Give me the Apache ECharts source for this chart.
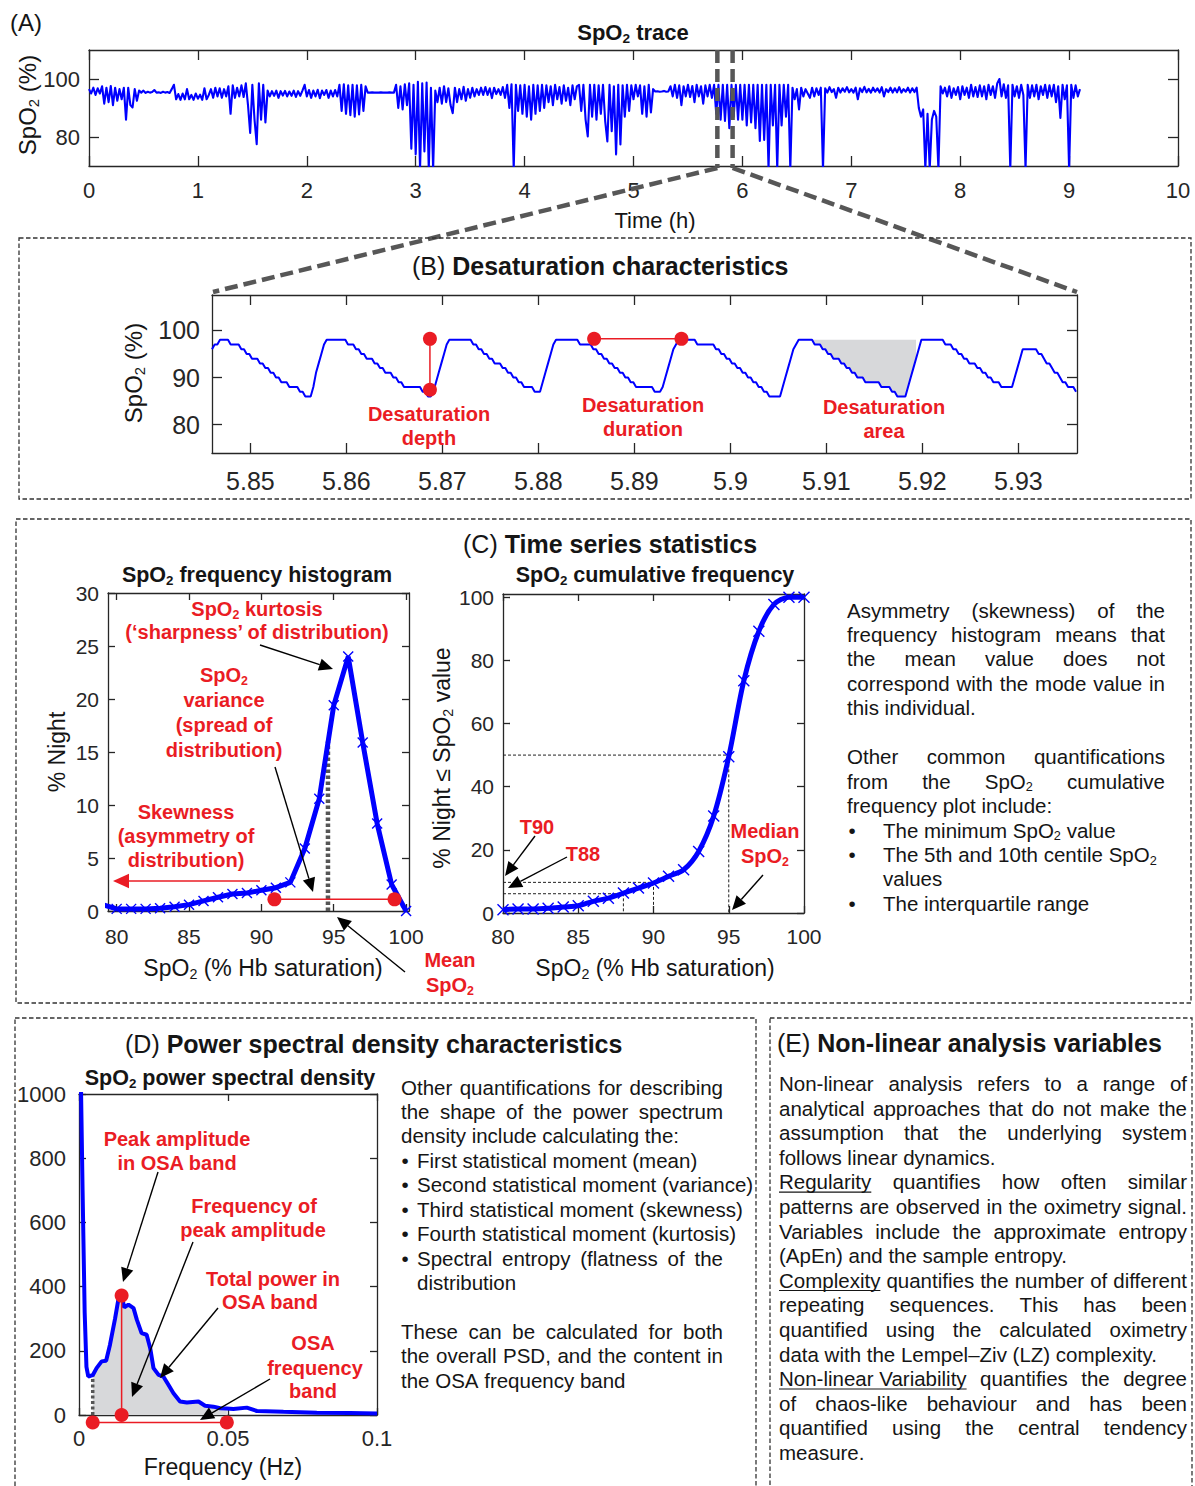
<!DOCTYPE html>
<html>
<head>
<meta charset="utf-8">
<title>Oximetry features</title>
<script src="https://cdn.jsdelivr.net/npm/echarts@6/dist/echarts.min.js"></script>
<style>
html,body{margin:0;padding:0;background:#fff;}
#main{width:1195px;height:1486px;}
</style>
</head>
<body>
<div id="main"></div>
<script>
// ---------------- data ----------------
// (A) overnight SpO2 (%), one reading every 0.02 h starting at 0 h
const traceStepHours = 0.02;
const traceA = [
  96.5,95,97,94.5,96.8,95,97.5,91.5,97,92,          // 0.00
  97.6,91,97,92.5,96.5,93,97,86,97,91,              // 0.20
  90.2,96.5,92.5,96,95.3,96,95.2,95.6,95.3,95.5,    // 0.40
  96.2,95.3,95.4,95.2,95.6,95.3,95.5,95.2,96.5,98,  // 0.60
  93,94.8,92.8,95,93,96.5,93,94.5,92.8,95,          // 0.80
  93.2,94.6,92.8,96.8,93,94.5,96.5,93.5,97,94,      // 1.00
  96.8,93.5,96.5,94,97.5,88,97.8,93.5,97,94,        // 1.20
  97.8,93.8,98.5,91,81.4,98,86,77.5,98.5,86,        // 1.40
  98,85,96,94,95.8,94.2,96,93.5,95.8,94.3,          // 1.60
  95.9,94,95.7,94.2,96,93.8,95.8,94.2,96,98,        // 1.80
  94,96.2,93.5,96,94,96.3,93.4,96,94.5,96.2,        // 2.00
  93.5,96,94,96.2,94,98,89,98.2,88,97.8,            // 2.20
  87.5,98,87,97.8,87.8,98,89,97.5,95.3,95.3,        // 2.40
  95.4,95.3,95.3,95.3,95.4,95.3,95.3,95.3,95.4,95.3,// 2.60
  95.3,98,90,97.5,89.5,98.2,91,98.5,76,98,          // 2.80
  74,99,69,98.5,75,98.8,69,97,69,96,                // 3.00
  92,97,91.5,97.5,92,96.8,91,88.2,97,92,            // 3.20
  96.5,93,97.3,92.5,96.5,93.5,97,94,96.5,94.5,      // 3.40
  97,94.5,97.2,94.5,96.8,93.4,97,94.8,96.5,94.5,    // 3.60
  97.2,93.5,98,90,98.2,69,98,89,97.8,88,            // 3.80
  98,87,97.5,86,98,88,97.8,89,98,90,                // 4.00
  97.8,92,97.5,91,98,93,97.2,91.5,97.8,92.5,        // 4.20
  97,91,97.8,93,97.5,98,89,98,86,80.2,              // 4.40
  98,87,98,86,97.8,88,98,85.5,78.5,98,              // 4.60
  82,97.5,74,98,77.4,97.8,87,98,89,97.8,            // 4.80
  93,98,94,97.8,88,97.5,87,98,88.5,96.5,            // 5.00
  95.7,95.8,95.6,95.7,95.9,95.6,95.7,97.5,94,98,    // 5.20
  93.5,97.8,91,97.5,94,98,93.8,97.6,92,98,          // 5.40
  94,97.5,91.5,97.8,94,98,93.5,98,88,98,            // 5.60
  86,98,85.5,98,83,98,87,98,86,98,                  // 5.80
  86,98,84,98,85,98,83,98,78.6,98,                  // 6.00
  79,98,69,98,84,98,69,98,84,98,                    // 6.20
  87,98,69,97,93,96.5,89.5,97,94,96.5,              // 6.40
  95,93.5,97,94,96.8,94.5,97,69,96.8,95.3,          // 6.60
  97.2,95.5,96.5,93.5,97,95.3,96.8,95.6,97.2,95.4,  // 6.80
  96.5,95.3,97,93,96.8,95.5,97.3,95.4,96.6,95.3,    // 7.00
  97,95.6,96.8,95.3,97.2,94,96.5,95.5,97,95.3,      // 7.20
  96.8,95.4,97.2,95.3,96.5,95.6,97,95.3,96.8,95.5,  // 7.40
  97,90,87,89.5,69,88,69,86,89,87,                  // 7.60
  69,97.5,95,97,94,97.5,93.5,96.8,94.5,97.2,        // 7.80
  93,97.5,94.5,97,93.5,98,94,97.2,93.8,97.8,        // 8.00
  94,97.5,93,98,94.5,97.5,93.5,98.5,100,94,         // 8.20
  98.2,93.5,97.8,69,98,94,97.5,93.5,98,94.5,        // 8.40
  69,98,93.5,97.8,94,98,93,97.5,94.5,98,            // 8.60
  93.5,97.8,94,98,92,97.5,86.6,98,93,97.8,          // 8.80
  69,98,93.5,97.8,94,96.5                           // 9.00
];
const traceTicksX = [0,1,2,3,4,5,6,7,8,9,10];
const traceTicksY = [80,100];
const traceRangeY = [70,110];
const zoomWindowHours = [5.77,5.91];

// (B) 1 Hz SpO2 readings starting at 5.846 h
const zoomStartHour = 5.846;
const traceB = [
  96,97,97,98,98, 98,98,97,97,97,97,
  96,96,95,95,94,94,94,93,93,92,92,91,91,90,90,89,89,89,
  88,88,88,88, 87,87, 86,86,86,
  88,91,93,95,97,98, 98,98,98,98,98,98,98,
  97,97,97,96,96,95,95,94,94,94,93,93,92,92,91,91,91,90,90,89,89,88,88,88,88,
  88,88,88, 87,87,86,86,
  87,89,91,93,95,97,98,98, 98,98,98,98,98,98,98,
  97,97,96,96,95,95,94,94,93,93,93,92,92,91,91,90,90,89,89,88,
  88,88,88,87, 87,87,
  89,91,93,95,97,98, 98,98,98,98,98,98,98,98,
  97,97,97,97,97,
  96,96,95,95,94,94,93,93,92,92,91,91,90,90,89,89,88,88,
  88,88,88,88,88, 87,87,87,
  88,90,92,94,96,97,98,98, 98,98,98,98,98,
  97,97,97,97,97,97,97,
  96,96,95,95,94,94,93,93,92,92,91,91,90,90,89,89,88,88,87,87,
  86,86,86,86,86,
  88,90,92,94,96,97,98, 98,98,98,98,98,
  97,97,97,96,96,95,95,94,94,94,93,93,92,92,91,91,90,90,90,89,89,89,89,
  89,89,88,88,88,88,87, 87,86,86,86,86,
  88,90,92,94,96,98, 98,98,98,98,98,98,98,98,
  97,97,97,96,96,95,95,94,94,93,93,93,92,92,91,91,90,90,89,89,89,88,88,
  88,88,88, 90,92,94,96, 96,96,96,96,96,
  95,95,94,93,93,92,91,91,90,89,89,88,88,88,87
];
const zoomRangeX = [5.846,5.9361];
const zoomRangeY = [74,107.5];
const zoomTicksX = [5.85,5.86,5.87,5.88,5.89,5.9,5.91,5.92,5.93];
const zoomTicksY = [80,90,100];
const depthMark = [[5.8687,98.2],[5.8687,87.4]];
const durationMark = [[5.8858,98.2],[5.8949,98.2]];
const shadedSpanHours = [5.9085,5.9194];
const shadedTop = 98;

// (C) SpO2 frequency histogram (% of night per 1% bin)
const histBins = [79,80,81,82,83,84,85,86,87,88,89,90,91,92,93,94,95,96,97,98,99,100];
const histPct  = [0.6,0.2,0.2,0.2,0.25,0.4,0.6,0.95,1.3,1.6,1.7,1.95,2.2,2.7,5.9,10.6,19.4,24.0,15.9,8.25,2.5,0];
const histRangeX = [79.4,100.2];
const histTicksX = [80,85,90,95,100];
const histTicksY = [0,5,10,15,20,25,30];
const meanMark = [[94.6,0],[94.6,16]];
const spreadMark = [[90.9,1.1],[99.2,1.1]];

// (C) cumulative frequency (% of night at or below each SpO2)
const cumBins = [80,81,82,83,84,85,86,87,88,89,90,91,92,93,94,95,96,97,98,99,100];
const cumPct  = [1.05,1.3,1.3,1.5,1.9,2.3,3.7,4.7,6.3,7.9,9.5,11.6,13.7,19.5,30.7,49.5,73.5,89.2,97.7,100,100];
const cumTicksX = [80,85,90,95,100];
const cumTicksY = [0,20,40,60,80,100];
const medianGuide = [[80,50],[95,50],[95,0]];
const t90Guide = [[80,9.7],[90,9.7],[90,0]];
const t88Guide = [[80,6.1],[88,6.1],[88,0]];

// (D) SpO2 power spectral density
const psdFreq  = [0.0002,0.0012,0.0019,0.0025,0.0031,0.0046,0.0059,0.0076,0.0091,0.0104,0.0121,0.0133,0.0143,0.0152,0.0166,0.0183,0.0194,0.0210,0.0227,0.0239,0.0250,0.0267,0.0283,0.0300,0.0317,0.0339,0.0362,0.0401,0.0423,0.0451,0.0474,0.0496,0.0518,0.0563,0.0597,0.0686,0.0798,0.0910,0.1000];
const psdPower = [1300,700,320,150,120,124,146,167,169,219,300,365,372,335,344,333,297,255,250,208,146,125,120,94,68,42,39,42,29,26,21,20,19,23,12.5,10,7,6,5];
const psdTicksX = [0,0.05,0.1];
const psdTicksY = [0,200,400,600,800,1000];
const osaBand = [[0.0046,-23],[0.0496,-23]];
const peakMark = [[0.0143,372],[0.0143,0]];
const bandEdgeMark = [[0.0046,0],[0.0046,122]];

// ---------------- styling helpers ----------------
const FONT = '"Liberation Sans", Arial, Helvetica, sans-serif';
const BLUE = '#0000ff', RED = '#ea1c24', AXC = '#262626', INK = '#151515', SHADE = '#d7d8da';
const CROSS = 'path://M0,0L10,10M10,0L0,10';

const mctx = document.createElement('canvas').getContext('2d');
function measure(str, size, weight) {
  weight = weight || 'normal';
  const parts = str.split('_2');
  let w = 0;
  mctx.font = weight + ' ' + size + 'px ' + FONT;
  parts.forEach(p => { w += mctx.measureText(p).width; });
  if (parts.length > 1) {
    mctx.font = weight + ' ' + (size * 0.62) + 'px ' + FONT;
    w += (parts.length - 1) * mctx.measureText('2').width;
  }
  return w;
}

// text element; "_2" renders as a subscript 2, "{n|...}" as normal weight
function T(x, y, str, o) {
  o = o || {};
  const size = o.size || 20.5, weight = o.weight || 'normal', fill = o.fill || INK;
  const align = o.align || 'left';
  const style = {
    text: str, x: 0, y: 0, fontSize: size, fontWeight: weight, fontFamily: FONT, fill: fill,
    align: align, textAlign: align, verticalAlign: 'middle', textVerticalAlign: 'middle'
  };
  if (/_2|\{/.test(str)) {
    style.text = str.replace(/_2/g, '{s|2}');
    style.rich = {
      s: {fontSize: size * 0.62, fontWeight: weight, fontFamily: FONT, fill: fill, padding: [size * 0.55, 0, 0, 0]},
      n: {fontSize: size, fontWeight: 'normal', fontFamily: FONT, fill: fill}
    };
  }
  return {type: 'text', x: x, y: y, rotation: o.rot || 0, style: style, z: 100, silent: true};
}

function arrow(x1, y1, x2, y2, color, head) {
  color = color || '#000';
  head = head || 14;
  const dx = x2 - x1, dy = y2 - y1, L = Math.hypot(dx, dy), ux = dx / L, uy = dy / L;
  const bx = x2 - ux * head, by = y2 - uy * head, hw = head * 0.45;
  return [
    {type: 'line', shape: {x1: x1, y1: y1, x2: bx, y2: by}, style: {stroke: color, lineWidth: 1.4}, z: 90, silent: true},
    {type: 'polygon', shape: {points: [[x2, y2], [bx - uy * hw, by + ux * hw], [bx + uy * hw, by - ux * hw]]}, style: {fill: color}, z: 90, silent: true}
  ];
}

function dashedBox(x, y, w, h) {
  return {type: 'rect', shape: {x: x, y: y, width: w, height: h},
    style: {fill: 'none', stroke: '#333', lineWidth: 1.3, lineDash: [4.5, 2.5]}, z: 80, silent: true};
}

// justified / left-aligned paragraph, one text element per word
function paragraph(lines, left, right, top, step, size, els) {
  const space = measure(' ', size);
  lines.forEach((ln, i) => {
    if (!ln) return;
    const y = top + i * step;
    let x = ln.indent != null ? ln.indent : left;
    if (ln.bullet != null) els.push(T(ln.bullet, y, '\u2022', {size: size, align: 'center'}));
    const words = ln.t.match(/\[[^\]]+\]|\S+/g);
    const info = words.map(w => {
      const u = w[0] === '[';
      const s = u ? w.slice(1, -1) : w;
      return {s: s, u: u, w: measure(s, size)};
    });
    const total = info.reduce((a, b) => a + b.w, 0);
    const gap = (ln.j && info.length > 1) ? (right - x - total) / (info.length - 1) : space;
    info.forEach(wd => {
      els.push(T(x, y, wd.s, {size: size}));
      if (wd.u) {
        els.push({type: 'line', shape: {x1: x, y1: y + size * 0.5, x2: x + wd.w, y2: y + size * 0.5},
          style: {stroke: INK, lineWidth: 1.1}, z: 100, silent: true});
      }
      x += wd.w + gap;
    });
  });
}

// ---------------- axes ----------------
const grids = [
  {left: 89,  top: 50,   width: 1089, height: 116},   // A
  {left: 212, top: 295,  width: 865,  height: 158},   // B
  {left: 108, top: 593,  width: 301,  height: 318},   // C histogram
  {left: 503, top: 594,  width: 301,  height: 319},   // C cumulative
  {left: 79,  top: 1094, width: 298,  height: 321}    // D
].map(g => Object.assign({containLabel: false, outerBoundsMode: 'none', show: false}, g));

const xAxes = [], yAxes = [];
function boxAxes(g, xr, yr, xt, yt, o) {
  const line = {show: true, onZero: false, lineStyle: {color: AXC, width: 1.3}};
  const tick = v => ({show: true, inside: true, length: o.tick, customValues: v, lineStyle: {color: AXC, width: 1.3}});
  const lab = (v, m, show) => ({show: show, customValues: v, margin: m, color: AXC, fontSize: o.fs, fontFamily: FONT,
    formatter: val => String(val)});
  const base = {type: 'value', gridIndex: g, splitLine: {show: false}, axisLine: line, silent: true};
  xAxes.push(Object.assign({}, base, {min: xr[0], max: xr[1], position: 'bottom', axisTick: tick(xt), axisLabel: lab(xt, o.mx, true)}));
  xAxes.push(Object.assign({}, base, {min: xr[0], max: xr[1], position: 'top', axisTick: tick(xt), axisLabel: lab(xt, 0, false)}));
  yAxes.push(Object.assign({}, base, {min: yr[0], max: yr[1], position: 'left', axisTick: tick(yt), axisLabel: lab(yt, o.my, true)}));
  yAxes.push(Object.assign({}, base, {min: yr[0], max: yr[1], position: 'right', axisTick: tick(yt), axisLabel: lab(yt, 0, false)}));
}
boxAxes(0, [0, 10], traceRangeY, traceTicksX, traceTicksY, {tick: 10, fs: 22, mx: 13, my: 9});
boxAxes(1, zoomRangeX, zoomRangeY, zoomTicksX, zoomTicksY, {tick: 10, fs: 25, mx: 15, my: 12});
boxAxes(2, histRangeX, [0, 30], histTicksX, histTicksY, {tick: 7, fs: 21, mx: 15, my: 9});
boxAxes(3, [80, 100], [0, 101], cumTicksX, cumTicksY, {tick: 7, fs: 21, mx: 13, my: 9});
boxAxes(4, [0, 0.1], [0, 1000], psdTicksX, psdTicksY, {tick: 7, fs: 22, mx: 12, my: 13});

// ---------------- series ----------------
const on = g => ({xAxisIndex: 2 * g, yAxisIndex: 2 * g});
const plain = {showSymbol: false, symbol: 'none', silent: true, animation: false};
function markerLine(g, data, color, extra) {
  return Object.assign({type: 'line', data: data, symbol: 'circle', symbolSize: 14, showSymbol: true,
    itemStyle: {color: color}, lineStyle: {color: color, width: 1.5}, silent: true, z: 5}, on(g), extra || {});
}
function polygonSeries(g, pts, fill) {
  return Object.assign({type: 'custom', data: [[pts[0][0], pts[0][1]]], silent: true, z: 1,
    renderItem: (params, api) => ({type: 'polygon', shape: {points: pts.map(p => api.coord(p))}, style: {fill: fill}})}, on(g));
}

const traceBPoints = traceB.map((v, i) => [zoomStartHour + i / 3600, v]);
const shadedPts = traceBPoints.filter(p => p[0] >= shadedSpanHours[0] && p[0] <= shadedSpanHours[1]);
shadedPts.push([shadedPts[shadedPts.length - 1][0], shadedTop]);

const psdPoints = psdFreq.map((f, i) => [f, psdPower[i]]);
const bandPts = psdPoints.filter(p => p[0] >= osaBand[0][0] && p[0] <= osaBand[1][0]);
bandPts.unshift([osaBand[0][0], 0]);
bandPts.push([osaBand[1][0], 0]);

const series = [
  // A
  Object.assign({type: 'line', data: traceA.map((v, i) => [+(i * traceStepHours).toFixed(2), v]),
    lineStyle: {color: BLUE, width: 2.1, join: 'round'}, clip: true, z: 3}, plain, on(0)),
  // B
  polygonSeries(1, shadedPts, SHADE),
  Object.assign({type: 'line', data: traceBPoints, lineStyle: {color: BLUE, width: 2}, clip: true, z: 3}, plain, on(1)),
  markerLine(1, depthMark, RED),
  markerLine(1, durationMark, RED),
  // C histogram
  Object.assign({type: 'line', data: meanMark, lineStyle: {color: '#555', width: 4.5, type: [3.5, 2.5]}, z: 2}, plain, on(2)),
  Object.assign({type: 'line', data: histBins.map((b, i) => [b, histPct[i]]), symbol: CROSS, symbolSize: 10,
    showSymbol: true, showAllSymbol: true, clip: true, silent: true,
    itemStyle: {color: BLUE, borderColor: BLUE, borderWidth: 1.4},
    lineStyle: {color: BLUE, width: 5}, z: 3}, on(2)),
  markerLine(2, spreadMark, RED),
  // C cumulative
  Object.assign({type: 'line', data: medianGuide, lineStyle: {color: '#222', width: 1, type: [3, 2]}, z: 2}, plain, on(3)),
  Object.assign({type: 'line', data: t90Guide, lineStyle: {color: '#222', width: 1, type: [3, 2]}, z: 2}, plain, on(3)),
  Object.assign({type: 'line', data: t88Guide, lineStyle: {color: '#222', width: 1, type: [3, 2]}, z: 2}, plain, on(3)),
  Object.assign({type: 'line', data: cumBins.map((b, i) => [b, cumPct[i]]), smooth: 0.3,
    symbol: CROSS, symbolSize: 11, showSymbol: true, showAllSymbol: true, clip: false, silent: true,
    itemStyle: {color: BLUE, borderColor: BLUE, borderWidth: 1.4},
    lineStyle: {color: BLUE, width: 5}, z: 3}, on(3)),
  // D
  polygonSeries(4, bandPts, SHADE),
  Object.assign({type: 'line', data: bandEdgeMark, lineStyle: {color: '#555', width: 3.5, type: [3, 2.5]}, z: 2}, plain, on(4)),
  Object.assign({type: 'line', data: psdPoints, lineStyle: {color: BLUE, width: 4}, clip: true, z: 3}, plain, on(4)),
  markerLine(4, peakMark, RED),
  markerLine(4, osaBand, RED, {clip: false})
];

const chart = echarts.init(document.getElementById('main'), null, {renderer: 'svg', width: 1195, height: 1486});
chart.setOption({
  animation: false,
  backgroundColor: '#fff',
  grid: grids,
  xAxis: xAxes,
  yAxis: yAxes,
  series: series
});

// ---------------- annotations ----------------
const g = [];

// panel frames
g.push(dashedBox(19, 238, 1172, 261));
g.push(dashedBox(16, 519, 1175, 484));
g.push(dashedBox(15, 1018, 741, 480));
g.push(dashedBox(770, 1018, 422, 480));

// (A)
g.push(T(10, 22, '(A)', {size: 24}));
g.push(T(633, 32, 'SpO_2 trace', {size: 22, weight: 'bold', align: 'center'}));
g.push(T(27, 105, 'SpO_2 (%)', {size: 24, align: 'center', rot: Math.PI / 2}));
g.push(T(655, 220, 'Time (h)', {size: 22, align: 'center'}));

// zoom window and its connectors to (B)
const wTop0 = chart.convertToPixel({gridIndex: 0}, [zoomWindowHours[0], traceRangeY[1]]);
const wBot0 = chart.convertToPixel({gridIndex: 0}, [zoomWindowHours[0], traceRangeY[0]]);
const wTop1 = chart.convertToPixel({gridIndex: 0}, [zoomWindowHours[1], traceRangeY[1]]);
const wBot1 = chart.convertToPixel({gridIndex: 0}, [zoomWindowHours[1], traceRangeY[0]]);
const bTL = chart.convertToPixel({gridIndex: 1}, [zoomRangeX[0], zoomRangeY[1]]);
const bTR = chart.convertToPixel({gridIndex: 1}, [zoomRangeX[1], zoomRangeY[1]]);
const zoomLine = {stroke: '#575757', lineWidth: 4.5, lineDash: [13, 6]};
g.push({type: 'line', shape: {x1: wTop0[0], y1: wTop0[1], x2: wBot0[0], y2: wBot0[1] + 2}, style: zoomLine, z: 60, silent: true});
g.push({type: 'line', shape: {x1: wTop1[0], y1: wTop1[1], x2: wBot1[0], y2: wBot1[1] + 2}, style: zoomLine, z: 60, silent: true});
g.push({type: 'line', shape: {x1: wBot0[0], y1: wBot0[1] + 2, x2: bTL[0] + 1, y2: bTL[1] - 3}, style: zoomLine, z: 60, silent: true});
g.push({type: 'line', shape: {x1: wBot1[0], y1: wBot1[1] + 2, x2: bTR[0], y2: bTR[1] - 3}, style: zoomLine, z: 60, silent: true});

// (B)
g.push(T(412, 266, '{n|(B)} Desaturation characteristics', {size: 25, weight: 'bold'}));
g.push(T(133, 373, 'SpO_2 (%)', {size: 24, align: 'center', rot: Math.PI / 2}));
const redB = {size: 20, weight: 'bold', fill: RED, align: 'center'};
g.push(T(429, 414, 'Desaturation', redB), T(429, 438, 'depth', redB));
g.push(T(643, 405, 'Desaturation', redB), T(643, 429, 'duration', redB));
g.push(T(884, 407, 'Desaturation', redB), T(884, 431, 'area', redB));

// (C)
g.push(T(463, 544, '{n|(C)} Time series statistics', {size: 25, weight: 'bold'}));
g.push(T(257, 575, 'SpO_2 frequency histogram', {size: 21.5, weight: 'bold', align: 'center'}));
g.push(T(655, 575, 'SpO_2 cumulative frequency', {size: 21.5, weight: 'bold', align: 'center'}));
g.push(T(57, 752, '% Night', {size: 23, align: 'center', rot: Math.PI / 2}));
g.push(T(442, 758, '% Night \u2264 SpO_2 value', {size: 23, align: 'center', rot: Math.PI / 2}));
g.push(T(263, 968, 'SpO_2 (% Hb saturation)', {size: 23, align: 'center'}));
g.push(T(655, 968, 'SpO_2 (% Hb saturation)', {size: 23, align: 'center'}));

const redC = {size: 20, weight: 'bold', fill: RED, align: 'center'};
g.push(T(257, 609, 'SpO_2 kurtosis', redC), T(257, 632, '(\u2018sharpness\u2019 of distribution)', redC));
g.push(T(224, 675, 'SpO_2', redC), T(224, 700, 'variance', redC), T(224, 725, '(spread of', redC), T(224, 750, 'distribution)', redC));
g.push(T(186, 812, 'Skewness', redC), T(186, 836, '(asymmetry of', redC), T(186, 860, 'distribution)', redC));
g.push(T(450, 960, 'Mean', redC), T(450, 985, 'SpO_2', redC));
g.push(T(537, 827, 'T90', redC), T(583, 854, 'T88', redC));
g.push(T(765, 831, 'Median', redC), T(765, 856, 'SpO_2', redC));

g.push.apply(g, arrow(260, 645, 333, 669));
g.push.apply(g, arrow(275, 767, 313, 892));
g.push.apply(g, arrow(405, 972, 337, 917));
g.push.apply(g, arrow(260, 881, 113, 881, RED, 16));
g.push.apply(g, arrow(535, 836, 505, 876));
g.push.apply(g, arrow(567, 857, 508, 888));
g.push.apply(g, arrow(763, 875, 732, 910));

paragraph([
  {t: 'Asymmetry (skewness) of the', j: true},
  {t: 'frequency histogram means that', j: true},
  {t: 'the mean value does not', j: true},
  {t: 'correspond with the mode value in', j: true},
  {t: 'this individual.'},
  null,
  {t: 'Other common quantifications', j: true},
  {t: 'from the SpO_2 cumulative', j: true},
  {t: 'frequency plot include:'},
  {t: 'The minimum SpO_2 value', bullet: 852, indent: 883},
  {t: 'The 5th and 10th centile SpO_2', bullet: 852, indent: 883},
  {t: 'values', indent: 883},
  {t: 'The interquartile range', bullet: 852, indent: 883}
], 847, 1165, 610, 24.45, 20.5, g);

// (D)
g.push(T(125, 1044, '{n|(D)} Power spectral density characteristics', {size: 25, weight: 'bold'}));
g.push(T(230, 1078, 'SpO_2 power spectral density', {size: 21.5, weight: 'bold', align: 'center'}));
g.push(T(223, 1467, 'Frequency (Hz)', {size: 23, align: 'center'}));
const redD = {size: 20, weight: 'bold', fill: RED, align: 'center'};
g.push(T(177, 1139, 'Peak amplitude', redD), T(177, 1163, 'in OSA band', redD));
g.push(T(254, 1206, 'Frequency of', redD), T(253, 1230, 'peak amplitude', redD));
g.push(T(273, 1279, 'Total power in', redD), T(270, 1302, 'OSA band', redD));
g.push(T(313, 1343, 'OSA', redD), T(315, 1368, 'frequency', redD), T(313, 1391, 'band', redD));
g.push.apply(g, arrow(158, 1172, 123, 1282));
g.push.apply(g, arrow(193, 1242, 132, 1397));
g.push.apply(g, arrow(218, 1308, 160, 1378));
g.push.apply(g, arrow(270, 1379, 200, 1420));

paragraph([
  {t: 'Other quantifications for describing', j: true},
  {t: 'the shape of the power spectrum', j: true},
  {t: 'density include calculating the:'},
  {t: 'First statistical moment (mean)', bullet: 405, indent: 417},
  {t: 'Second statistical moment (variance)', bullet: 405, indent: 417},
  {t: 'Third statistical moment (skewness)', bullet: 405, indent: 417},
  {t: 'Fourth statistical moment (kurtosis)', bullet: 405, indent: 417},
  {t: 'Spectral entropy (flatness of the', bullet: 405, indent: 417, j: true},
  {t: 'distribution', indent: 417},
  null,
  {t: 'These can be calculated for both', j: true},
  {t: 'the overall PSD, and the content in', j: true},
  {t: 'the OSA frequency band'}
], 401, 723, 1087, 24.45, 20.5, g);

// (E)
g.push(T(777, 1043, '{n|(E)} Non-linear analysis variables', {size: 25, weight: 'bold'}));
paragraph([
  {t: 'Non-linear analysis refers to a range of', j: true},
  {t: 'analytical approaches that do not make the', j: true},
  {t: 'assumption that the underlying system', j: true},
  {t: 'follows linear dynamics.'},
  {t: '[Regularity] quantifies how often similar', j: true},
  {t: 'patterns are observed in the oximetry signal.', j: true},
  {t: 'Variables include the approximate entropy', j: true},
  {t: '(ApEn) and the sample entropy.'},
  {t: '[Complexity] quantifies the number of different', j: true},
  {t: 'repeating sequences. This has been', j: true},
  {t: 'quantified using the calculated oximetry', j: true},
  {t: 'data with the Lempel\u2013Ziv (LZ) complexity.'},
  {t: '[Non-linear Variability] quantifies the degree', j: true},
  {t: 'of chaos-like behaviour and has been', j: true},
  {t: 'quantified using the central tendency', j: true},
  {t: 'measure.'}
], 779, 1187, 1083.5, 24.6, 20.5, g);

chart.setOption({graphic: {elements: g}});
</script>
</body>
</html>
